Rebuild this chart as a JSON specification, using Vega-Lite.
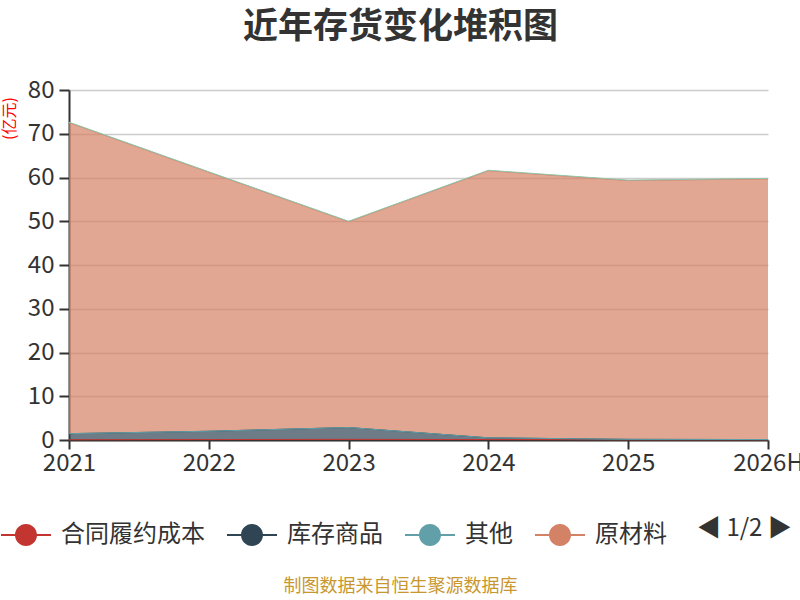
{
  "$schema": "https://vega.github.io/schema/vega-lite/v6.json",
  "width": 699,
  "height": 350,
  "autosize": {"type": "none"},
  "padding": {"left": 69, "top": 90, "right": 32, "bottom": 160},
  "background": "white",
  "title": {
    "text": "近年存货变化堆积图",
    "fontSize": 35,
    "fontWeight": "bold",
    "color": "#333333",
    "font": "Noto Sans CJK SC",
    "anchor": "middle",
    "offset": 33,
    "dx": -18
  },
  "data": {
    "values": [
      {"year": "2021", "series": "合同履约成本", "order": 1, "value": 0.05},
      {"year": "2022", "series": "合同履约成本", "order": 1, "value": 0.1},
      {"year": "2023", "series": "合同履约成本", "order": 1, "value": 0.15},
      {"year": "2024", "series": "合同履约成本", "order": 1, "value": 0.1},
      {"year": "2025", "series": "合同履约成本", "order": 1, "value": 0.05},
      {"year": "2026H", "series": "合同履约成本", "order": 1, "value": 0.05},
      {"year": "2021", "series": "库存商品", "order": 2, "value": 1.4},
      {"year": "2022", "series": "库存商品", "order": 2, "value": 1.9},
      {"year": "2023", "series": "库存商品", "order": 2, "value": 2.7},
      {"year": "2024", "series": "库存商品", "order": 2, "value": 0.4},
      {"year": "2025", "series": "库存商品", "order": 2, "value": 0.1},
      {"year": "2026H", "series": "库存商品", "order": 2, "value": 0.05},
      {"year": "2021", "series": "其他", "order": 3, "value": 0},
      {"year": "2022", "series": "其他", "order": 3, "value": 0},
      {"year": "2023", "series": "其他", "order": 3, "value": 0},
      {"year": "2024", "series": "其他", "order": 3, "value": 0},
      {"year": "2025", "series": "其他", "order": 3, "value": 0},
      {"year": "2026H", "series": "其他", "order": 3, "value": 0},
      {"year": "2021", "series": "原材料", "order": 4, "value": 71.1},
      {"year": "2022", "series": "原材料", "order": 4, "value": 59.2},
      {"year": "2023", "series": "原材料", "order": 4, "value": 47.05},
      {"year": "2024", "series": "原材料", "order": 4, "value": 61.05},
      {"year": "2025", "series": "原材料", "order": 4, "value": 59.15},
      {"year": "2026H", "series": "原材料", "order": 4, "value": 59.6},
      {"year": "2021", "series": "在产品", "order": 5, "value": 0.1},
      {"year": "2022", "series": "在产品", "order": 5, "value": 0.1},
      {"year": "2023", "series": "在产品", "order": 5, "value": 0.1},
      {"year": "2024", "series": "在产品", "order": 5, "value": 0.1},
      {"year": "2025", "series": "在产品", "order": 5, "value": 0.1},
      {"year": "2026H", "series": "在产品", "order": 5, "value": 0.1}
    ]
  },
  "mark": {
    "type": "area",
    "fillOpacity": 0.7,
    "line": {"strokeWidth": 1}
  },
  "encoding": {
    "x": {
      "field": "year",
      "type": "ordinal",
      "scale": {"type": "point", "padding": 0},
      "axis": {
        "labelAngle": 0,
        "labelFontSize": 24,
        "labelColor": "#333333",
        "labelFont": "Noto Sans CJK SC",
        "labelPadding": 2,
        "domainColor": "#333333",
        "domainWidth": 2,
        "tickColor": "#333333",
        "tickWidth": 2,
        "tickSize": 9,
        "grid": false,
        "title": "制图数据来自恒生聚源数据库",
        "titleColor": "#c9972f",
        "titleFont": "Noto Sans CJK SC",
        "titleFontSize": 18,
        "titleFontWeight": "normal",
        "titleY": 137,
        "titleX": 331,
        "titleAnchor": "middle"
      }
    },
    "y": {
      "field": "value",
      "type": "quantitative",
      "aggregate": "sum",
      "stack": "zero",
      "scale": {"domain": [0, 80]},
      "axis": {
        "values": [0, 10, 20, 30, 40, 50, 60, 70, 80],
        "labelFontSize": 24,
        "labelColor": "#333333",
        "labelFont": "Noto Sans CJK SC",
        "labelPadding": 5,
        "domainColor": "#333333",
        "domainWidth": 2,
        "tickColor": "#333333",
        "tickWidth": 2,
        "tickSize": 10,
        "gridColor": "#cccccc",
        "gridWidth": 1.5,
        "title": "(亿元)",
        "titleColor": "#ff0000",
        "titleFont": "Noto Sans CJK SC",
        "titleFontSize": 16,
        "titleFontWeight": "normal",
        "titleX": -60,
        "titleY": 28,
        "titleAlign": "center",
        "titleBaseline": "middle"
      }
    },
    "color": {
      "field": "series",
      "type": "nominal",
      "scale": {
        "domain": ["合同履约成本", "库存商品", "其他", "原材料", "在产品"],
        "range": ["#c23531", "#2f4554", "#61a0a8", "#d48265", "#91c7ae"]
      },
      "legend": {
        "values": ["合同履约成本", "库存商品", "其他", "原材料"],
        "orient": "none",
        "legendX": -68,
        "legendY": 420,
        "direction": "horizontal",
        "title": "◀ 1/2 ▶",
        "titleOrient": "right",
        "titleFontSize": 24,
        "titleFontWeight": "normal",
        "titleColor": "#333333",
        "titleFont": "Noto Sans CJK SC",
        "titlePadding": 30,
        "labelFontSize": 24,
        "labelColor": "#333333",
        "labelFont": "Noto Sans CJK SC",
        "labelOffset": 10,
        "columnPadding": 22,
        "symbolType": "M-1,-0.04 L1,-0.04 L1,0.04 L-1,0.04 Z M0.44,0 A0.44,0.44 0 1 1 -0.44,0 A0.44,0.44 0 1 1 0.44,0 Z",
        "symbolSize": 2500,
        "symbolStrokeWidth": 0,
        "symbolOpacity": 1
      }
    },
    "order": {"field": "order", "type": "quantitative"}
  },
  "config": {
    "view": {"stroke": null},
    "font": "Noto Sans CJK SC"
  }
}
